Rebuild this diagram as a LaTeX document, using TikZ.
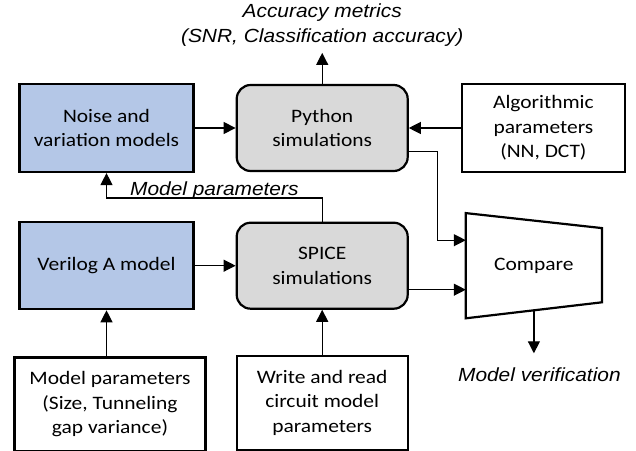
\documentclass[tikz,border=0pt]{standalone}
\usepackage{fontspec}
\setmainfont{Carlito}[FakeStretch=1.13]
\newfontfamily\notefont{Liberation Sans}[FakeStretch=1.1]
\usepackage{tikz}
\usetikzlibrary{arrows.meta}
\usetikzlibrary{positioning}
\definecolor{modelblue}{RGB}{180,199,231}
\definecolor{simgray}{RGB}{217,217,217}

\begin{document}
\begin{tikzpicture}[x=1pt,y=1pt,->,>={Triangle[length=12pt,width=12pt]},line width=1.2pt,
  box/.style={draw,line width=2.2pt,align=center,font=\fontsize{19}{24.5}\selectfont,inner sep=0pt},
  model node/.style={box,fill=modelblue,minimum width=174pt,minimum height=88pt},
  sim node/.style={box,fill=simgray,rounded corners=14pt,minimum width=171pt,minimum height=86pt},
  note text/.style={align=center,inner sep=0pt,font=\notefont\itshape\fontsize{19}{25}\selectfont}]

  \useasboundingbox (0,0) rectangle (636,450);

  \node[model node] (noise) at (106.5,322) {Noise and\\variation models};
  \node[sim node] (python) [right=41pt of noise] {Python\\simulations};
  \node[box,minimum width=163pt,minimum height=88pt] (algo) [right=52pt of python] {Algorithmic\\parameters\\(NN, DCT)};

  \node[model node,minimum height=87pt] (verilog) [below=48pt of noise] {Verilog A model};
  \node[sim node] (spice) [right=41pt of verilog] {SPICE\\simulations};
  \node[box,draw=none,minimum width=134pt,minimum height=103pt] (compare) [right=57pt of spice] {Compare};

  \node[box,minimum width=191pt,minimum height=94pt] (modelpar) [below=46pt of verilog,xshift=3.5pt] {Model parameters\\(Size, Tunneling\\gap variance)};
  \node[box,minimum width=171pt,minimum height=94pt] (circuit) [below=45pt of spice] {Write and read\\circuit model\\parameters};

  % compare block is a trapezoid
  \draw[-,line width=2.2pt,line join=miter] (compare.north west) -- ([yshift=-15pt]compare.north east)
    -- ([yshift=16pt]compare.south east) -- (compare.south west) -- cycle;

  \coordinate[above=31pt of python] (acctip);
  \node[note text] (acc) [above=6pt of acctip] {Accuracy metrics\\(SNR, Classification accuracy)};
  \coordinate[below=35pt of compare.south] (veriftip);
  \node[note text] (verif) [below=14pt of veriftip,xshift=5.5pt] {Model verification};

  \path (noise) edge (python)
        (algo) edge (python)
        (verilog) edge (spice)
        (circuit) edge (spice)
        (python) edge (acctip);

  \draw (modelpar.north -| verilog.south) -- (verilog.south);
  \draw ([yshift=8pt]compare.south) -- (veriftip);
  \draw ([yshift=-24pt]spice.east) -- ([yshift=-24pt]spice.east -| compare.west);
  \draw ([yshift=-23.5pt]python.east) -- ++(29pt,0) |- ([yshift=25.5pt]compare.west);
  \draw (spice.north) |- node[note text,near end,above=-2pt] {Model parameters} ([yshift=-25pt]noise.south) -- (noise.south);

\end{tikzpicture}
\end{document}
